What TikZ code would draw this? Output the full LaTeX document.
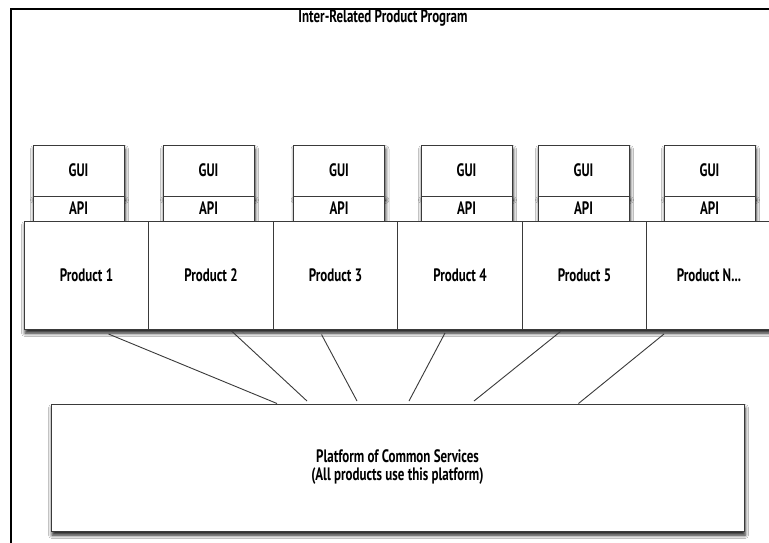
\documentclass[tikz,border=0pt]{standalone}
\usepackage{fontspec}
\setmainfont{PT Sans}[FakeStretch=0.72]
\usetikzlibrary{shadows.blur}
\definecolor{edge}{HTML}{3A3A3A}
\tikzset{
  labelfont/.style={font=\bfseries\fontsize{18}{18}\selectfont},
  box/.style={draw=edge, line width=1pt, fill=white, inner sep=0pt, outer sep=0pt, labelfont},
  softshadow/.style={blur shadow={shadow xshift=1pt, shadow yshift=-4pt,
              shadow blur radius=3.5pt, shadow opacity=90}},
  guibox/.style={box, softshadow, minimum width=91pt, minimum height=51pt},
  apibox/.style={box, softshadow, minimum width=91pt, minimum height=25pt},
  prodbox/.style={box, minimum width=124.5pt, minimum height=108pt},
  link/.style={draw=edge, line width=0.9pt},
}
\begin{document}
\begin{tikzpicture}[x=1pt, y=-1pt]
  \clip (0,0) rectangle (769,542);
  \fill[white] (0,0) rectangle (769,542);

  % outer frame, running off the right and bottom edges
  \draw[line width=2pt, black] (11,9) rectangle (820,600);

  \node[labelfont] (title) at (383,18) {Inter-Related Product Program};

  % GUI / API stacks
  \foreach \i/\x in {1/78.5, 2/208.5, 3/339, 4/466.5, 5/583.5, 6/709.5} {
    \node[guibox] (gui\i) at (\x,170.5) {GUI};
    \node[apibox] (api\i) at (\x,208.5) {API};
  }

  % product row with one common shadow
  \node[box, softshadow, minimum width=747pt, minimum height=108pt] (row) at (397.5,275) {};
  \foreach \i/\x/\t in {1/86.5/Product 1, 2/211/Product 2, 3/335.5/Product 3,
                        4/460/Product 4, 5/584.5/Product 5, 6/709/{Product N{.}{.}{.}}} {
    \node[prodbox] (p\i) at (\x,275) {\t};
  }

  % shared platform
  \node[box, softshadow, minimum width=693pt, minimum height=127pt, align=center]
    (platform) at (397.5,467.5) {Platform of Common Services\\(All products use this platform)};

  % connectors from the products down to the platform
  \coordinate (a1) at (108.5,334);   \coordinate (b1) at (277,403.5);
  \coordinate (a2) at (231,330.5);   \coordinate (b2) at (307,401);
  \coordinate (a3) at (321.5,334.5); \coordinate (b3) at (357,401);
  \coordinate (a4) at (445,333);     \coordinate (b4) at (409,401);
  \coordinate (a5) at (560.5,331.5); \coordinate (b5) at (474,401);
  \coordinate (a6) at (664,334);     \coordinate (b6) at (578.5,403.5);
  \foreach \i in {1,...,6} {
    \draw[link] (a\i) -- (b\i);
  }
\end{tikzpicture}
\end{document}
